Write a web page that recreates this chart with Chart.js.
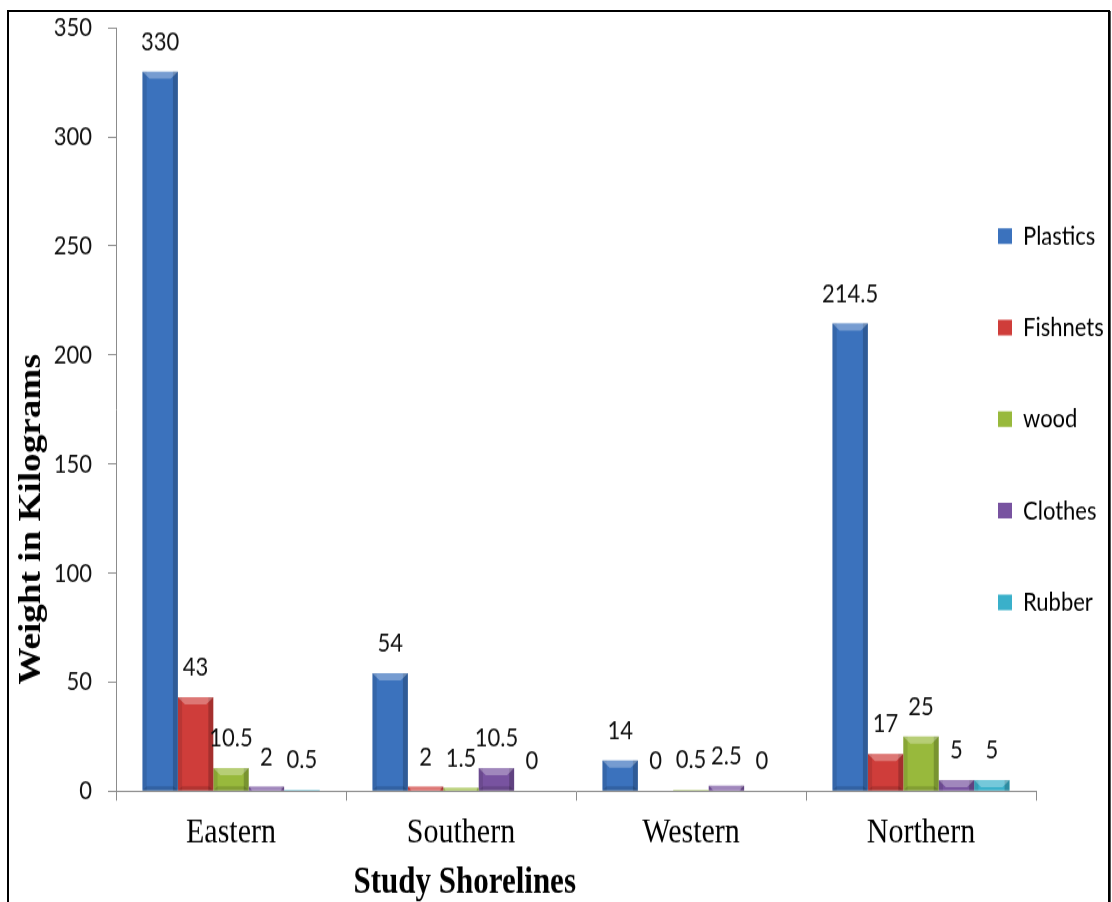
<!DOCTYPE html>
<html><head><meta charset="utf-8">
<script src="https://cdn.jsdelivr.net/npm/chart.js@4.4.1/dist/chart.umd.min.js"></script>
<style>
html,body{margin:0;padding:0;background:#fff;width:1112px;height:902px;overflow:hidden;}
#frame{position:absolute;left:7px;top:10px;width:1103px;height:1000px;box-sizing:border-box;border:2px solid #000;box-shadow:1px 1px 0 #555;}
#wrap{position:absolute;left:0;top:0;width:1112px;height:752px;transform:scaleY(1.2);transform-origin:0 0;}
canvas{display:block;}
</style></head><body>
<div id="frame"></div>
<div id="wrap"><canvas id="c" width="1112" height="752"></canvas></div>
<script>
// ---- data ----
const categories = ['Eastern', 'Southern', 'Western', 'Northern'];
const seriesNames = ['Plastics', 'Fishnets', 'wood', 'Clothes', 'Rubber'];
const plastics = [330, 54, 14, 214.5];
const fishnets = [43, 2, 0, 17];
const wood = [10.5, 1.5, 0.5, 25];
const clothes = [2, 10.5, 2.5, 5];
const rubber = [0.5, 0, 0, 5];
const yTicks = [0, 50, 100, 150, 200, 250, 300, 350];
const xTitle = 'Study Shorelines';
const yTitle = 'Weight in Kilograms';

const seriesValues = [plastics, fishnets, wood, clothes, rubber];
const colors = ['#3b72bd', '#cf3d3a', '#98b93c', '#7853a0', '#3ab0ca'];
const axisGray = '#8c8c8c';

const datasets = seriesNames.map((name, i) => ({
  label: name,
  data: seriesValues[i],
  backgroundColor: colors[i],
  borderWidth: 0,
  categoryPercentage: 0.77,
  barPercentage: 1.0
}));

// bevel look + value labels, from the library's bar geometry
const barDecor = {
  id: 'barDecor',
  afterDatasetsDraw(chart, args, opts) {
    const ctx = chart.ctx;
    ctx.save();
    chart.data.datasets.forEach((ds, di) => {
      const meta = chart.getDatasetMeta(di);
      meta.data.forEach((el, i) => {
        const p = el.getProps(['x', 'y', 'base', 'width'], true);
        const l = p.x - p.width / 2, r = p.x + p.width / 2;
        const top = Math.min(p.y, p.base), bot = Math.max(p.y, p.base);
        const h = bot - top;
        if (h > 0.3) {
          const dx = Math.min(p.width * 0.2, h * 1.2);
          const dy = dx / 1.2;
          ctx.fillStyle = 'rgba(0,0,0,0.10)';
          ctx.fillRect(l, top, dx * 0.6, h);
          ctx.fillStyle = 'rgba(0,0,0,0.20)';
          ctx.fillRect(r - dx * 0.7, top, dx * 0.7, h);
          ctx.fillStyle = 'rgba(255,255,255,0.30)';
          ctx.beginPath();
          ctx.moveTo(l, top); ctx.lineTo(r, top);
          ctx.lineTo(r - dx, top + dy); ctx.lineTo(l + dx, top + dy);
          ctx.closePath(); ctx.fill();
          if (h > 2 * dy) {
            ctx.fillStyle = 'rgba(0,0,0,0.14)';
            ctx.beginPath();
            ctx.moveTo(l, bot); ctx.lineTo(r, bot);
            ctx.lineTo(r - dx * 0.6, bot - dy * 0.6); ctx.lineTo(l + dx * 0.6, bot - dy * 0.6);
            ctx.closePath(); ctx.fill();
          }
        }
        ctx.fillStyle = opts.color;
        ctx.font = opts.font;
        ctx.textAlign = 'center';
        ctx.textBaseline = 'middle';
        ctx.fillText(String(ds.data[i]), p.x, p.y - opts.offset);
      });
    });
    ctx.restore();
  }
};

// axis titles (placed as in the original, off-centre) and legend placement
const layoutTweaks = {
  id: 'layoutTweaks',
  afterLayout(chart, args, opts) {
    const lg = chart.legend;
    if (lg) {
      lg.left = opts.legendLeft; lg.right = chart.width; lg.width = lg.right - lg.left;
      lg.top = opts.legendTop; lg.bottom = chart.height; lg.height = lg.bottom - lg.top;
    }
  },
  afterDraw(chart, args, opts) {
    const ctx = chart.ctx, a = chart.chartArea;
    ctx.save();
    ctx.fillStyle = '#000';
    ctx.font = opts.titleFont;
    ctx.textAlign = 'center';
    ctx.textBaseline = 'middle';
    ctx.fillText(xTitle, a.left + a.width * opts.xFrac, opts.xTitleY);
    ctx.translate(opts.yTitleX, a.top + a.height * opts.yFrac);
    ctx.rotate(-Math.PI / 2);
    ctx.fillText(yTitle, 0, 0);
    ctx.restore();
  }
};

new Chart(document.getElementById('c'), {
  type: 'bar',
  data: { labels: categories, datasets },
  options: {
    responsive: false,
    animation: false,
    devicePixelRatio: 1,
    layout: { padding: { top: 23.3, right: 76, bottom: 0, left: 0 } },
    scales: {
      x: {
        grid: { display: true, drawOnChartArea: false, drawTicks: true, tickLength: 8, color: axisGray, offset: true },
        border: { display: true, color: axisGray, width: 1 },
        ticks: { color: '#000', font: { family: '"Liberation Serif", serif', size: 30 }, padding: 9, maxRotation: 0 },
        afterFit(s) { s.height = 752 - 659.2; s.paddingLeft = 0; s.paddingRight = 0; }
      },
      y: {
        min: 0, max: 350,
        afterBuildTicks(s) { s.ticks = yTicks.map(v => ({ value: v })); },
        grid: { display: true, drawOnChartArea: false, drawTicks: true, tickLength: 8, color: axisGray },
        border: { display: true, color: axisGray, width: 1 },
        ticks: { color: '#111', font: { family: 'Lato, sans-serif', size: 22 }, padding: 16 },
        afterFit(s) { s.width = 116; s.paddingTop = 0; s.paddingBottom = 0; }
      }
    },
    plugins: {
      legend: {
        position: 'chartArea',
        align: 'start',
        labels: {
          boxWidth: 14, boxHeight: 13, padding: 54.3,
          color: '#000',
          font: { family: 'Lato, sans-serif', size: 22 }
        }
      },
      tooltip: { enabled: false },
      barDecor: { color: '#111', font: '22px Lato, sans-serif', offset: 25 },
      layoutTweaks: {
        legendLeft: 943.7, legendTop: 131.4,
        titleFont: 'bold 31px "Liberation Serif", serif',
        xFrac: 0.379, xTitleY: 736,
        yFrac: 0.644, yTitleX: 32
      }
    }
  },
  plugins: [barDecor, layoutTweaks]
});
</script>
</body></html>
